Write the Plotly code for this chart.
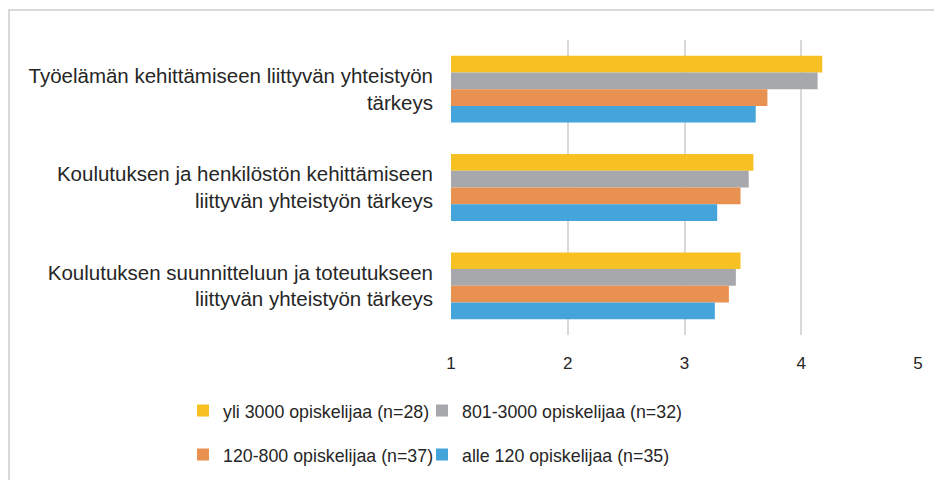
import plotly.graph_objects as go

categories = [
    "Työelämän kehittämiseen liittyvän yhteistyön<br>tärkeys",
    "Koulutuksen ja henkilöstön kehittämiseen<br>liittyvän yhteistyön tärkeys",
    "Koulutuksen suunnitteluun ja toteutukseen<br>liittyvän yhteistyön tärkeys",
]
series_names = [
    "yli 3000 opiskelijaa (n=28)",
    "801-3000 opiskelijaa (n=32)",
    "120-800 opiskelijaa (n=37)",
    "alle 120 opiskelijaa (n=35)",
]
yli_3000 = [4.18, 3.59, 3.48]
v801_3000 = [4.14, 3.55, 3.44]
v120_800 = [3.71, 3.48, 3.38]
alle_120 = [3.61, 3.28, 3.26]
series_values = [yli_3000, v801_3000, v120_800, alle_120]
colors = ["#F7C124", "#A7A8AB", "#E89150", "#45A5DB"]
legend_ids = ["legend", "legend2", "legend3", "legend4"]
tick_vals = [1, 2, 3, 4, 5]

FONT = "Liberation Sans, Arial, sans-serif"
TXT = "#262626"

fig = go.Figure()
for name, vals, col, lg in zip(series_names, series_values, colors, legend_ids):
    fig.add_trace(go.Bar(
        y=categories, x=[v - 1 for v in vals], base=1, orientation="h",
        name=name, marker=dict(color=col, line=dict(width=0)),
        legend=lg,
    ))

# page body adds an 8px offset; figure sized to fit the 942x480 window
W, H = 934, 472
L, R, T, B = 443, 24, 32, 145
pw, ph = W - L - R, H - T - B

def px_x(p):
    return (p - L) / pw

def px_y(p):
    return (H - B - p) / ph

def legend_box(x, y):
    return dict(orientation="h", x=px_x(x), xanchor="left",
                y=px_y(y), yanchor="middle",
                font=dict(size=17.8), bgcolor="rgba(0,0,0,0)")

fig.update_layout(
    width=W, height=H,
    margin=dict(l=L, r=R, t=T, b=B, autoexpand=False),
    paper_bgcolor="white", plot_bgcolor="white",
    font=dict(family=FONT, size=17, color=TXT),
    barmode="group", bargap=0.32, bargroupgap=0,
    xaxis=dict(range=[1, 5], tickvals=tick_vals, showgrid=True,
               gridcolor="#D9D9D9", gridwidth=2, zeroline=False,
               showline=False, ticks="", ticklabelstandoff=16,
               tickfont=dict(size=17)),
    yaxis=dict(autorange="reversed", showgrid=False, zeroline=False,
               showline=False, ticks="", ticklabelstandoff=17,
               tickfont=dict(size=20.5)),
    legend=legend_box(175, 403),
    legend2=legend_box(414, 403),
    legend3=legend_box(175, 447),
    legend4=legend_box(414, 447),
    shapes=[dict(type="rect", xref="paper", yref="paper",
                 x0=px_x(1), x1=px_x(960), y0=px_y(2), y1=px_y(500),
                 line=dict(color="#D9D9D9", width=2), layer="below")],
    showlegend=True,
)

fig.write_html("out.html")
